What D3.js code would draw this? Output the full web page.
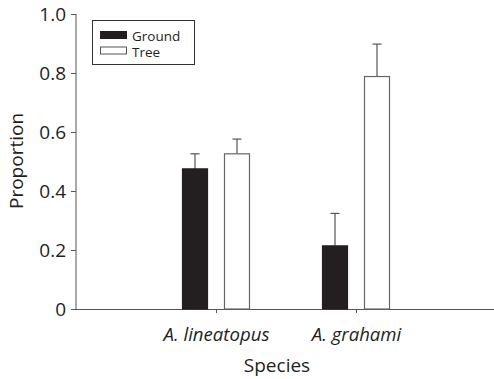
<!DOCTYPE html>
<html><head><meta charset="utf-8">
<script src="https://cdn.jsdelivr.net/npm/d3@7"></script>
<style>body{margin:0;background:#fff}svg{display:block}text{font-family:"Open Sans",sans-serif;fill:#231f20}</style>
</head><body><svg id="c" width="494" height="379"></svg>
<script>
const species = ["A. lineatopus", "A. grahami"];
const seriesNames = ["Ground", "Tree"];
const ground = [0.475, 0.214];
const groundErr = [0.051, 0.11];
const tree = [0.526, 0.788];
const treeErr = [0.05, 0.11];
const yTicks = [0, 0.2, 0.4, 0.6, 0.8, 1.0];
const yTickLabels = ["0", "0.2", "0.4", "0.6", "0.8", "1.0"];

const svg = d3.select("#c");
const x0 = 76, x1 = 496, yTop = 14, yBot = 309;
const x = d3.scalePoint().domain(["_s", ...species, "_e"]).range([x0, x1]);
const y = d3.scaleLinear().domain([0, 1]).range([yBot, yTop]);
const barW = 26, gap = 16;
const off = d3.scalePoint().domain(seriesNames).range([-(gap/2 + barW/2), gap/2 + barW/2]);
const axisCol = "#555";

// y axis
const yAxis = d3.axisLeft(y).tickValues(yTicks).tickFormat((d,i)=>yTickLabels[i]).tickSize(5).tickPadding(5);
const gy = svg.append("g").attr("transform", `translate(${x0},0)`).call(yAxis);
gy.select(".domain").attr("stroke", axisCol).attr("d", `M-0.5,${yTop}V${yBot}`).attr("transform","translate(0.5,0)");
gy.selectAll(".tick line").attr("stroke", axisCol);
gy.selectAll(".tick text").attr("font-size", 19).attr("font-family", '"Open Sans",sans-serif').attr("fill", "#231f20");

// x axis
const xAxis = d3.axisBottom(x).tickValues(species).tickSize(4).tickSizeOuter(0).tickFormat(d=>d);
const gx = svg.append("g").attr("transform", `translate(0,${yBot})`).call(xAxis);
gx.select(".domain").attr("stroke", axisCol).attr("d", `M${x0},0.5H494`);
gx.selectAll(".tick line").attr("stroke", axisCol);
gx.selectAll(".tick text").attr("font-size", 18.6).attr("font-style", "italic").attr("dy", 0).attr("y", 31.5)
  .attr("font-family", '"Open Sans",sans-serif').attr("fill", "#231f20");

// bars
const data = [];
species.forEach((s, i) => {
  data.push({s, k: "Ground", v: ground[i], e: groundErr[i]});
  data.push({s, k: "Tree", v: tree[i], e: treeErr[i]});
});
const g = svg.append("g");
g.selectAll("line.err").data(data).join("line").attr("class","err")
  .attr("x1", d => x(d.s) + off(d.k)).attr("x2", d => x(d.s) + off(d.k))
  .attr("y1", d => y(d.v)).attr("y2", d => y(d.v + d.e))
  .attr("stroke", "#555").attr("stroke-width", 1.2);
g.selectAll("line.cap").data(data).join("line").attr("class","cap")
  .attr("x1", d => x(d.s) + off(d.k) - 4.5).attr("x2", d => x(d.s) + off(d.k) + 4.5)
  .attr("y1", d => y(d.v + d.e)).attr("y2", d => y(d.v + d.e))
  .attr("stroke", "#555").attr("stroke-width", 1.2);
g.selectAll("rect").data(data).join("rect")
  .attr("x", d => x(d.s) + off(d.k) - barW/2 + 0.5)
  .attr("y", d => y(d.v))
  .attr("width", barW - 1)
  .attr("height", d => y(0) - y(d.v))
  .attr("fill", d => d.k === "Ground" ? "#231f20" : "#fff")
  .attr("stroke", d => d.k === "Ground" ? "#231f20" : "#666")
  .attr("stroke-width", 1.2);

// axis titles
svg.append("text").attr("x", 277).attr("y", 372).attr("text-anchor", "middle").attr("font-size", 19).text("Species");
svg.append("text").attr("transform", "translate(23,161) rotate(-90)").attr("text-anchor", "middle").attr("font-size", 19).text("Proportion");

// legend
const lg = svg.append("g");
lg.append("rect").attr("x", 92.5).attr("y", 20.5).attr("width", 102).attr("height", 44).attr("fill", "none").attr("stroke", "#333");
lg.selectAll("rect.sw").data(seriesNames).join("rect").attr("class","sw")
  .attr("x", 100.5).attr("y", (d,i)=>31.5 + i*15.5).attr("width", 26).attr("height", 7)
  .attr("fill", (d)=> d==="Ground" ? "#231f20" : "#fff").attr("stroke", d => d==="Ground" ? "#231f20" : "#555");
lg.selectAll("text").data(seriesNames).join("text")
  .attr("x", 132).attr("y", (d,i)=>40.5 + i*16.6)
  .attr("font-family", '"Liberation Sans",Arial,sans-serif').attr("font-size", 13.5).text(d=>d);
</script></body></html>
